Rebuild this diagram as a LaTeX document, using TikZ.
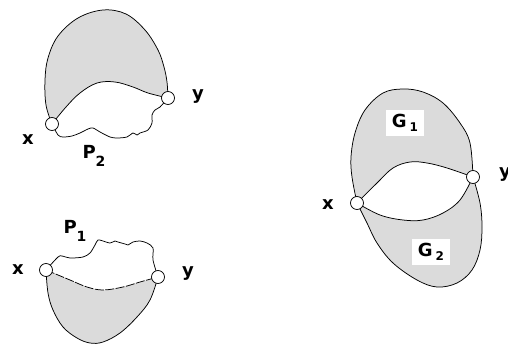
\documentclass[tikz,border=0pt]{standalone}
\usepackage{fontspec}
\setsansfont{DejaVu Sans}
\begin{document}
\begin{tikzpicture}[x=1pt,y=-1pt,
  vtx/.style={circle,draw,fill=white,line width=0.75pt,minimum size=13pt,inner sep=0pt},
  edge/.style={line width=0.75pt},
  shade/.style={fill=gray!28},
  lbl/.style={font=\sffamily\bfseries\fontsize{18}{20}\selectfont,inner sep=1pt}]
\useasboundingbox (0,0) rectangle (508,345);
% ---------- top-left ----------
\coordinate (X1) at (52,124);
\coordinate (Y1) at (168,98);
\path[shade,draw,edge] plot[smooth,tension=0.6] coordinates {(X1) (46,105) (45,80) (48,58) (58,36) (78,18) (103,10) (126,14) (145,30) (158,50) (164,67) (167,82) (Y1)}
  -- plot[smooth,tension=0.6] coordinates {(Y1) (148,93) (133,87) (115,82) (97,83) (80,93) (66,107) (X1)} -- cycle;
\draw[edge] plot[smooth,tension=0.5] coordinates {(X1) (58,135) (63,137) (72,136) (80,133) (88,129) (93,128) (100,132) (110,137) (117,138) (127,137) (133,133) (137,135) (140,133) (148,130) (152,123) (152,115) (155,110) (160,107) (Y1)};
\node[vtx] (xa) at (X1) {};
\node[vtx] (ya) at (Y1) {};
\node[lbl] (lxa) at (28,140) {x};
\node[lbl] (lya) at (198,97) {y};
\node[lbl] (p2) at (94,156) {P\raisebox{-8pt}{\fontsize{14}{15}\selectfont 2}};
% ---------- bottom-left ----------
\coordinate (X2) at (46,270);
\coordinate (Y2) at (158,277);
\fill[shade] plot[smooth,tension=0.6] coordinates {(X2) (48,293) (53,310) (63,327) (77,338) (90,343) (103,342) (120,333) (137,317) (150,300) (Y2)}
  -- plot[smooth,tension=0.6] coordinates {(Y2) (140,282) (123,287) (103,290) (87,287) (70,280) (X2)} -- cycle;
\draw[edge] plot[smooth,tension=0.6] coordinates {(X2) (48,293) (53,310) (63,327) (77,338) (90,343) (103,342) (120,333) (137,317) (150,300) (Y2)};
\draw[edge,dash pattern=on 9pt off 1.5pt] plot[smooth,tension=0.6] coordinates {(X2) (70,280) (87,287) (103,290) (123,287) (140,282) (Y2)};
\draw[edge] plot[smooth,tension=0.5] coordinates {(X2) (58,257) (62,256) (70,258) (83,257) (90,253) (95,245) (98,240) (103,241) (110,243) (115,241) (118,242) (125,244) (128,245) (133,242) (140,241) (147,243) (153,248) (153,260) (Y2)};
\node[vtx] (xb) at (X2) {};
\node[vtx] (yb) at (Y2) {};
\node[lbl] (lxb) at (18,270) {x};
\node[lbl] (lyb) at (188,274) {y};
\node[lbl] (p1) at (75,231) {P\raisebox{-8pt}{\fontsize{14}{15}\selectfont 1}};
% ---------- right ----------
\coordinate (X3) at (357,203);
\coordinate (Y3) at (473,177);
\path[shade,draw,edge] plot[smooth,tension=0.6] coordinates {(X3) (352,177) (351,157) (355,133) (365,110) (383,93) (403,89) (423,92) (443,103) (460,123) (470,143) (Y3)}
  -- plot[smooth,tension=0.6] coordinates {(Y3) (447,168) (427,163) (410,162) (393,168) (377,183) (X3)} -- cycle;
\path[shade,draw,edge] plot[smooth,tension=0.6] coordinates {(X3) (380,215) (403,220) (423,220) (443,213) (460,200) (Y3)}
  -- plot[smooth,tension=0.6] coordinates {(Y3) (480,203) (482,227) (480,250) (472,270) (457,283) (437,287) (417,280) (393,263) (377,243) (367,223) (X3)} -- cycle;
\node[vtx] (xc) at (X3) {};
\node[vtx] (yc) at (Y3) {};
\node[lbl] (lxc) at (328,205) {x};
\node[lbl] (lyc) at (505,175) {y};
\node[lbl,fill=white,inner xsep=6pt,inner ysep=4pt] (g1) at (405,123) {G\,\raisebox{-4pt}{\fontsize{12}{13}\selectfont 1}};
\node[lbl,fill=white,inner xsep=6pt,inner ysep=4pt] (g2) at (431,252) {G\,\raisebox{-4pt}{\fontsize{12}{13}\selectfont 2}};
\end{tikzpicture}
\end{document}
